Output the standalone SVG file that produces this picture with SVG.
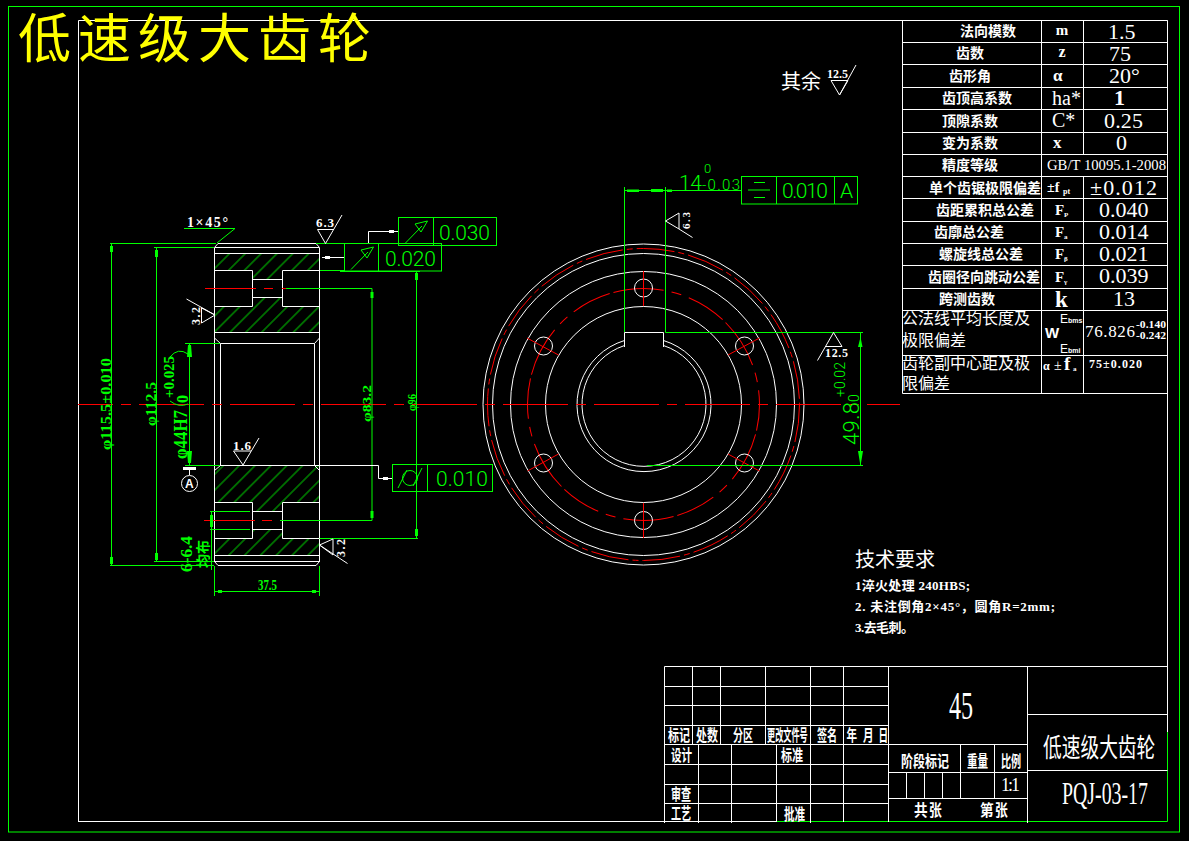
<svg xmlns="http://www.w3.org/2000/svg" width="1189" height="841" viewBox="0 0 1189 841">
<style>
.w{stroke:#fff;fill:none;stroke-width:1}
.g{stroke:#0f0;fill:none;stroke-width:1}
.r{stroke:#f00;fill:none;stroke-width:1}
text{font-family:"Liberation Serif","Noto Sans CJK SC",serif}
.tw{fill:#fff}
.tb{fill:#fff;font-weight:bold}
.tg{fill:#0f0;font-weight:bold}
.tf{fill:#0f0;font-family:Roboto,"Liberation Sans",sans-serif;font-weight:300}
.c{fill:#fff;font-weight:bold;font-size:14px}
.v{fill:#fff;font-size:22px}
.n{fill:#fff;font-size:16px}
.s{fill:#fff;font-weight:bold;font-size:16px}
.af{fill:#0f0;stroke:none}
</style>
<defs>
<pattern id="hatch" patternUnits="userSpaceOnUse" width="11.2" height="11.2" patternTransform="rotate(45)"><line x1="5.6" y1="0" x2="5.6" y2="11.2" stroke="#0f0" stroke-width="0.8"/></pattern>
</defs>
<rect width="1189" height="841" fill="#000"/>
<g id="frame">
<rect x="8.500" y="6.500" width="1171" height="825.500" class="g"/>
<path class="w" d="M78.500 822V20.500H1167.500V732M78.500 821.500H777"/>
<path class="g" d="M777 821.500H1167.500V732"/>
</g>
<text id="title" x="18" y="58" font-size="53" fill="#ff0" letter-spacing="7" style="font-family:'Noto Sans CJK SC',sans-serif">低速级大齿轮</text>
<g id="roughness-rest">
<text x="781" y="89" font-size="20" class="tw">其余</text>
<text x="827" y="78" font-size="12" class="tb">12.5</text>
<path class="w" d="M831 80.500H848L839.500 95L856 65M831 80.500L839.500 95"/>
</g>
<g id="param-table">
<path class="w" d="M902.500 20.500H1167.500M902.500 42.500H1167.500M902.500 64.500H1167.500M902.500 87.500H1167.500M902.500 109.500H1167.500M902.500 132.500H1167.500M902.500 154.500H1167.500M902.500 176.500H1167.500M902.500 198.500H1167.500M902.500 221.500H1167.500M902.500 243.500H1167.500M902.500 265.500H1167.500M902.500 288.500H1167.500M902.500 310.500H1167.500M902.500 355.500H1167.500M902.500 393.500H1167.500M902.500 20.500V393.500M1041.500 20.500V393.500M1083.500 20.500V154.500M1083.500 176.500V393.500"/>
<g text-anchor="middle">
<text class="c" x="988" y="36">法向模数</text>
<text class="c" x="970" y="58">齿数</text>
<text class="c" x="970" y="81">齿形角</text>
<text class="c" x="977" y="103">齿顶高系数</text>
<text class="c" x="970" y="126">顶隙系数</text>
<text class="c" x="970" y="148">变为系数</text>
<text class="c" x="970" y="170">精度等级</text>
<text class="c" x="985" y="193">单个齿锯极限偏差</text>
<text class="c" x="985" y="215">齿距累积总公差</text>
<text class="c" x="969" y="237">齿廓总公差</text>
<text class="c" x="981" y="259">螺旋线总公差</text>
<text class="c" x="984" y="282">齿圈径向跳动公差</text>
<text class="c" x="967" y="304">跨测齿数</text>
</g>
<text class="n" x="902" y="324">公法线平均长度及</text>
<text class="n" x="902" y="346">极限偏差</text>
<text class="n" x="902" y="369">齿轮副中心距及极</text>
<text class="n" x="902" y="389">限偏差</text>
<text class="tb" x="1062" y="35" font-size="15" text-anchor="middle">m</text>
<text class="tb" x="1062" y="57" font-size="16" text-anchor="middle">z</text>
<text class="tb" x="1053" y="81" font-size="17">α</text>
<text class="tw" x="1052" y="105" font-size="20">ha*</text>
<text class="tw" x="1052" y="127" font-size="20">C*</text>
<text class="tb" x="1053" y="148" font-size="17">x</text>
<text class="tb" x="1047" y="192" font-size="14">±f</text>
<text class="tb" x="1063" y="194" font-size="8">pt</text>
<text class="tb" x="1055" y="215" font-size="15">F</text><text class="tb" x="1064" y="217" font-size="7">P</text>
<text class="tb" x="1055" y="237" font-size="15">F</text><text class="tb" x="1064" y="239" font-size="7">a</text>
<text class="tb" x="1055" y="259" font-size="15">F</text><text class="tb" x="1064" y="261" font-size="7">β</text>
<text class="tb" x="1055" y="282" font-size="15">F</text><text class="tb" x="1064" y="284" font-size="7">γ</text>
<text class="tb" x="1055" y="307" font-size="23">k</text>
<g>
<text class="tb" x="1045" y="338" font-size="15" style="font-family:'Liberation Sans',sans-serif">W</text>
<text class="tw" x="1060" y="323" font-size="12" style="font-family:'Liberation Sans',sans-serif">E</text><text class="tb" x="1068" y="323" font-size="7" style="font-family:'Liberation Sans',sans-serif">bms</text>
<text class="tw" x="1060" y="353" font-size="12" style="font-family:'Liberation Sans',sans-serif">E</text><text class="tb" x="1068" y="353" font-size="7" style="font-family:'Liberation Sans',sans-serif">bmi</text>
</g>
<text class="tb" x="1043" y="370" font-size="12">α</text><text class="tw" x="1054" y="370" font-size="14">±</text><text class="tb" x="1064" y="370" font-size="19">f</text><text class="tb" x="1073" y="371" font-size="7">a</text>
<g>
<text class="v" x="1108" y="39">1.5</text>
<text class="v" x="1109" y="61">75</text>
<text class="v" x="1109" y="83">20°</text>
<text class="v" x="1114" y="105" font-weight="bold">1</text>
<text class="v" x="1104" y="128" textLength="39" lengthAdjust="spacing">0.25</text>
<text class="v" x="1116" y="150">0</text>
<text class="tw" x="1047" y="170" font-size="14" textLength="119" lengthAdjust="spacingAndGlyphs">GB/T 10095.1-2008</text>
<text class="v" x="1090" y="195" textLength="67" lengthAdjust="spacing">±0.012</text>
<text class="v" x="1099" y="217">0.040</text>
<text class="v" x="1099" y="239">0.014</text>
<text class="v" x="1099" y="261">0.021</text>
<text class="v" x="1099" y="283">0.039</text>
<text class="v" x="1113" y="306">13</text>
<text class="tw" x="1085" y="337" font-size="17" textLength="50" lengthAdjust="spacing">76.826</text>
<text class="tb" x="1136" y="328" font-size="10" textLength="30" lengthAdjust="spacingAndGlyphs">-0.140</text>
<text class="tb" x="1136" y="339" font-size="10" textLength="30" lengthAdjust="spacingAndGlyphs">-0.242</text>
<text class="tb" x="1089" y="368" font-size="12" textLength="53" lengthAdjust="spacing">75±0.020</text>
</g>
</g>
<g id="title-block">
<path class="w" d="M664.500 666.500H1167.500M664.500 686.500H888.500M664.500 705.500H888.500M664.500 725.500H888.500M664.500 744.500H1027.500M664.500 764.500H888.500M664.500 784.500H888.500M664.500 803.500H888.500M664.500 666.500V823M692.500 666.500V744.500M720.500 666.500V744.500M765.500 666.500V744.500M810.500 666.500V823M843.500 666.500V822M698.500 744.500V823M731.500 744.500V823M776.500 744.500V822M888.500 666.500V822M888.500 772.500H1027.500M888.500 798.500H1027.500M906.500 772.500V798.500M924.500 772.500V798.500M942.500 772.500V798.500M960.500 744.500V798.500M994.500 744.500V798.500M1027.500 666.500V823M1027.500 714.500H1167.500M1027.500 770.500H1167.500"/>
<text class="s" transform="translate(668 741) scale(.69 1)">标记</text>
<text class="s" transform="translate(696 741) scale(.69 1)">处数</text>
<text class="s" transform="translate(733 741) scale(.63 1)">分区</text>
<text class="s" transform="translate(767 741) scale(.51 1)">更改文件号</text>
<text class="s" transform="translate(817 741) scale(.63 1)">签名</text>
<text class="s" transform="translate(846.500 741) scale(.66 1)">年</text>
<text class="s" transform="translate(863 741) scale(.66 1)">月</text>
<text class="s" transform="translate(878.500 741) scale(.6 1)">日</text>
<text class="s" transform="translate(671 761) scale(.66 1)">设计</text>
<text class="s" transform="translate(781 761) scale(.69 1)">标准</text>
<text class="s" transform="translate(671 800) scale(.63 1)">审查</text>
<text class="s" transform="translate(671 819) scale(.63 1)">工艺</text>
<text class="s" transform="translate(784 820) scale(.66 1)">批准</text>
<text class="s" transform="translate(901 767) scale(.75 1)">阶段标记</text>
<text class="s" transform="translate(967 767) scale(.66 1)">重量</text>
<text class="s" transform="translate(1001 767) scale(.63 1)">比例</text>
<text class="tw" x="1001" y="791" font-size="18" textLength="19" lengthAdjust="spacing">1:1</text>
<text class="s" transform="translate(914 816) scale(.85 1)">共</text>
<text class="s" transform="translate(929 816) scale(.8 1)">张</text>
<text class="s" transform="translate(980 816) scale(.85 1)">第</text>
<text class="s" transform="translate(995 816) scale(.8 1)">张</text>
<text class="tw" transform="translate(949 719) scale(.62 1)" font-size="39">45</text>
<text class="tw" transform="translate(1043 757) scale(.72 1)" font-size="26">低速级大齿轮</text>
<text class="tw" transform="translate(1062 804) scale(.62 1)" font-size="32">PQJ-03-17</text>
</g>
<g id="tech-notes">
<text class="tw" x="855" y="567" font-size="20">技术要求</text>
<text class="tb" x="855" y="590" font-size="13" textLength="115" lengthAdjust="spacing">1淬火处理 240HBS;</text>
<text class="tb" x="855" y="611" font-size="13" textLength="200" lengthAdjust="spacing">2. 未注倒角2×45°，圆角R=2mm;</text>
<text class="tb" x="855" y="632" font-size="13" textLength="59" lengthAdjust="spacing">3.去毛刺。</text>
</g>
<g id="section-view">
<path fill="url(#hatch)" d="M215 254H319V270H282V279H253V270H215ZM215 307H253V298H282V307H319V332H215ZM215 466H319V502H282V511H253V502H215ZM215 539H253V530H282V539H319V555H215Z"/>
<path class="w" d="M214.500 248V562M319.500 248V562M218 243.500H316L319.500 247.500M218 243.500L214.500 247.500M214.500 247.500H319.500M214.500 253.500H319.500M214.500 332.500H319.500M220.500 343.500H314.500M220.500 343.500V465.500M314.500 343.500V465.500M214.500 338L220.500 343.500M319.500 338L314.500 343.500M214.500 470.500L220.500 465.500M319.500 470.500L314.500 465.500M214.500 465.500H319.500M214.500 555.500H319.500M214.500 561.500H319.500M218 565.500H316L319.500 561.500M218 565.500L214.500 561.500"/>
<path class="w" d="M214.500 270.500H252.500V306.500H214.500M252.500 279.500H282.500M252.500 297.500H282.500M319.500 270.500H282.500V306.500H319.500M214.500 502.500H252.500V538.500H214.500M252.500 511.500H282.500M252.500 529.500H282.500M319.500 502.500H282.500V538.500H319.500"/>
</g>
<g id="front-view">
<circle cx="643.500" cy="404.500" r="160.500" class="w"/>
<circle cx="643.500" cy="404.500" r="156" class="r" stroke-dasharray="38 4 6 4"/>
<circle cx="643.500" cy="404.500" r="151" class="w"/>
<circle cx="643.500" cy="404.500" r="133" class="w"/>
<circle cx="643.500" cy="404.500" r="116" class="r" pathLength="360" stroke-dasharray="25 4 5 4 20 2" transform="rotate(-105 643.500 404.500)"/>
<circle cx="643.500" cy="404.500" r="98" class="w"/>
<path class="w" d="M624.500 340.500A67 67 0 1 0 663.500 340.500M624.500 345.500A62 62 0 1 0 663.500 345.500M624.500 347V332.500H663.500V347"/>
<g class="w">
<circle cx="643.500" cy="288" r="9"/><circle cx="744.500" cy="346" r="9"/><circle cx="744.500" cy="463" r="9"/><circle cx="643.500" cy="520.500" r="9"/><circle cx="543.500" cy="463" r="9"/><circle cx="543.500" cy="346" r="9"/>
</g>
<path class="r" d="M643.500 271V306M728 355L759.500 338M728 454L759.500 471M643.500 503V538M527.500 471L558.500 454M527 338L558.500 355"/>
</g>
<g id="center-lines">
<path class="r" d="M78 404.500H900" stroke-dasharray="65 8 10 8" stroke-dashoffset="30"/>
<path class="r" d="M205 288.500H256M264 288.500H273M282 288.500H286M204 520.500H255M262 520.500H272M280 520.500H284"/>
</g>
<g id="connectors">
<path class="g" d="M110 243.500H216M154 247.500H214M111.500 243.500V565.500M156.500 247.500V561.500M110 565.500H214M154 561.500H214M185 343.500H220M189.500 343.500V465.500M185 465.500H220M214.500 566V596M319.500 566V596M214.500 591.500H319.500M211.500 511V570M210 511.500H250M210 529.500H250M217 243L235 228.500M184 228.500H235"/>
<path class="g" d="M316 243.500H344.500M320 270.500H344.500M286 288.500H372M280 520.500H372M372 288.500V520.500M416.500 271V538.500M319.500 538.500H418"/>
<path class="g" stroke-width="2" d="M340 271.500H420"/>
<path class="w" d="M322 257.500H344.500M368.500 243V231.500H398M319.500 465.500H378.500V478.500H392"/>
<g fill="#fff"><rect x="325" y="256" width="5" height="3"/><rect x="389" y="230" width="5" height="3"/><rect x="383" y="477" width="5" height="3"/></g>
<g class="af">
<rect x="110" y="246" width="3" height="6"/><rect x="155" y="250" width="3" height="7"/>
<rect x="110" y="557" width="3" height="7"/><rect x="155" y="553" width="3" height="7"/>
<path d="M188 345H191L192 357H187ZM187 451H192L191 463H188Z"/>
<rect x="218" y="590" width="4" height="3"/><rect x="312" y="590" width="4" height="3"/>
<rect x="210" y="515" width="3" height="12"/>
<rect x="415" y="273" width="3" height="7"/><rect x="370.500" y="292" width="3" height="6"/><rect x="370.500" y="511" width="3" height="7"/><rect x="415" y="529" width="3" height="7"/>
</g>
<path class="g" d="M624.500 187V332M665.500 187V332.500M624.500 190.500H741.500M665.500 332.500H863M647 465.500H863M860.500 333V465.500"/>
<g class="af">
<path d="M627 189.500H639V192H627ZM651 189H663V192H651ZM667 189.500H672V192H667ZM860.500 337L862.500 347H858ZM858 451H863L861 463H860Z"/>
</g>
<path class="w" d="M665.500 221L679 213V229L665.500 221M679 229L692.500 237.500"/>
<path class="w" d="M825 346.500H842M833.500 332.500L842 346.500M833.500 332.500L817.500 360.500"/>
</g>
<g id="tolerance-frames">
<rect x="398.500" y="217.500" width="98" height="28" class="g"/>
<path class="g" d="M433.500 217.500V245.500M405 243.500L422 226M415 224L427.500 221L421 232Z"/>
<text class="tf" x="439" y="240" font-size="21" textLength="51">0.030</text>
<rect x="344.500" y="243.500" width="97" height="27.500" class="g"/>
<path class="g" d="M378.500 243.500V271M351 269.500L368 252M361 250L373.500 247L367 258Z"/>
<text class="tf" x="385" y="266" font-size="21" textLength="51">0.020</text>
<rect x="392.500" y="464.500" width="100" height="27" class="g"/>
<path class="g" d="M427.500 464.500V491.500M398 488L407 470M413 486L422 468"/>
<circle cx="410" cy="478" r="7.500" class="g"/>
<text class="tf" x="436" y="486" font-size="21" textLength="52">0.010</text>
<rect x="741.500" y="176.500" width="116" height="27.500" class="g"/>
<path class="g" d="M776.500 176.500V204M834.500 176.500V204M754 182.500H765M748 190H770M754 197.500H765"/>
<text class="tf" x="782" y="198" font-size="21" textLength="46">0.010</text>
<text class="tf" x="840" y="198" font-size="21">A</text>
</g>
<g id="datum-a">
<rect x="183" y="467" width="13" height="3" fill="#fff"/>
<path class="w" d="M189.500 470V475"/>
<circle cx="189.500" cy="483.500" r="8" class="w"/>
<text x="185" y="488" class="tb" font-size="12" style="font-family:'Liberation Sans',sans-serif">A</text>
</g>
<g id="dimension-text">
<text class="tg" transform="translate(111 450) rotate(-90)" font-size="14" textLength="92" lengthAdjust="spacingAndGlyphs">φ115.5±0.010</text>
<text class="tg" transform="translate(155.500 426) rotate(-90)" font-size="14" textLength="44" lengthAdjust="spacingAndGlyphs">φ112.5</text>
<text class="tg" transform="translate(186.500 459) rotate(-90)" font-size="19" textLength="49" lengthAdjust="spacingAndGlyphs">φ44H7</text>
<text class="tg" transform="translate(174 398) rotate(-90)" font-size="14" textLength="42" lengthAdjust="spacingAndGlyphs">+0.025</text>
<text class="tg" transform="translate(188 403) rotate(-90)" font-size="16">0</text>
<path class="g" stroke-width="1.300" d="M170 357Q178 347 188 354M170 401Q179 408 188 404"/>
<text class="tg" transform="translate(371 422) rotate(-90)" font-size="13" textLength="37" lengthAdjust="spacingAndGlyphs">φ83.2</text>
<text class="tg" transform="translate(415.500 411) rotate(-90)" font-size="12" textLength="17" lengthAdjust="spacingAndGlyphs">φ96</text>
<text class="tg" transform="translate(192 572) rotate(-90)" font-size="16" textLength="36" lengthAdjust="spacingAndGlyphs">6-6.4</text>
<text class="tg" transform="translate(208 568) rotate(-90)" font-size="14" textLength="28">均布</text>
<text class="tg" x="258" y="590" font-size="14" textLength="19" lengthAdjust="spacingAndGlyphs">37.5</text>
<text class="tb" x="187" y="227" font-size="14" textLength="41" lengthAdjust="spacing">1×45°</text>
<text class="tb" x="316" y="227" font-size="13" textLength="18" lengthAdjust="spacing">6.3</text>
<path class="w" d="M317.500 229.500H334M317.500 229.500L325.500 243.500L342 215"/>
<text class="tb" x="233" y="450" font-size="13" textLength="18" lengthAdjust="spacing">1.6</text>
<path class="w" d="M233.500 451H251M233.500 451L243 465L259 438"/>
<text class="tb" transform="translate(199.500 325) rotate(-90)" font-size="12" textLength="18" lengthAdjust="spacing">3.2</text>
<path class="w" d="M201.500 308V323L215 315L186.500 299M201.500 308L215 315"/>
<text class="tb" transform="translate(345 557) rotate(-90)" font-size="12" textLength="18" lengthAdjust="spacing">3.2</text>
<path class="w" d="M333 539V555L319.500 545L347.500 563.500M333 539L319.500 545"/>
<text class="tb" transform="translate(690 229) rotate(-90)" font-size="11" textLength="17" lengthAdjust="spacing">6.3</text>
<text class="tb" x="825" y="357" font-size="12" textLength="23" lengthAdjust="spacing">12.5</text>
<text class="tf" x="679" y="190" font-size="21" textLength="23">14</text>
<text class="tf" x="704" y="173" font-size="13">0</text>
<text class="tf" x="702" y="190" font-size="15" textLength="38">-0.03</text>
<text class="tf" transform="translate(859 445) rotate(-90)" font-size="22" textLength="43">49.8</text>
<text class="tf" transform="translate(859 402) rotate(-90)" font-size="14">0</text>
<text class="tf" transform="translate(845 397) rotate(-90)" font-size="14" textLength="35">+0.02</text>
</g>
</svg>
